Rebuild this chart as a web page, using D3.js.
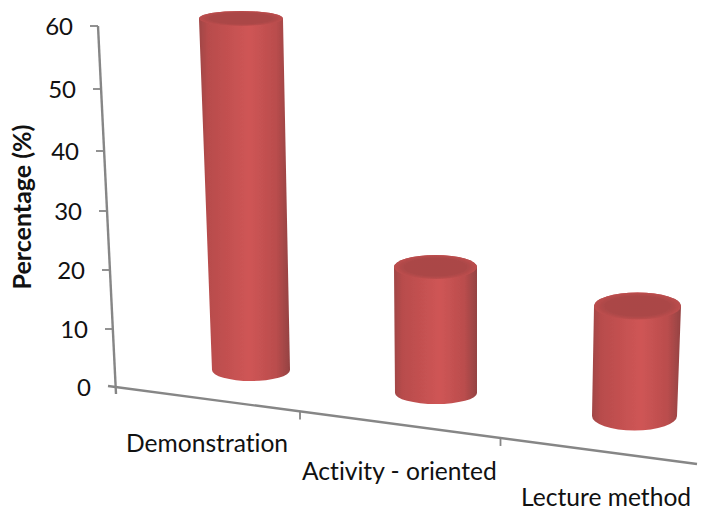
<!DOCTYPE html>
<html><head><meta charset="utf-8">
<script src="https://cdn.jsdelivr.net/npm/d3@7"></script>
<style>html,body{margin:0;padding:0;background:#fff}svg{display:block}text{font-family:Lato,"Open Sans",sans-serif;fill:#111;font-variant-ligatures:none}</style>
</head><body><svg id="c" width="710" height="510"></svg>
<script>
const categories = ["Demonstration", "Activity - oriented", "Lecture method"];
const values = [60, 21, 18];
const tickValues = [0, 10, 20, 30, 40, 50, 60];
const axisTitle = "Percentage (%)";

const svg = d3.select("#c");
const idx = [0, 1, 2];
// Perspective projection of the 3-D chart, expressed as scales
const tickY = d3.scaleLinear().domain(tickValues).range([387, 329, 270, 211, 151, 89, 26]);
const tickX = d3.scaleLinear().domain([0, 60]).range([116, 98]);
const floorX = d3.scaleLinear().domain([0, 1]).range([116, 697]);
const floorY = d3.scaleLinear().domain([0, 1]).range([387, 464]);
const floorTick = d3.scaleLinear().domain(idx).range([0, 0.3167, 0.6618]);
const baseCx = d3.scaleLinear().domain(idx).range([251, 436, 634.5]);
const baseCy = d3.scaleLinear().domain(idx).range([370, 393, 416]);
const pxPerUnit = d3.scaleLinear().domain(idx).range([5.86, 6, 6.11]);
const leanPerUnit = d3.scaleLinear().domain(idx).range([-0.167, -0.024, 0.167]);
const baseRx = d3.scaleLinear().domain(idx).range([39, 41, 42.5]);
const topRx = d3.scaleLinear().domain(idx).range([42, 41.5, 43.5]);
const baseRy = d3.scaleLinear().domain(idx).range([11, 11, 14.5]);
const topRy = d3.scaleLinear().domain(idx).range([7.5, 12, 13.5]);
const labelX = d3.scaleLinear().domain(idx).range([126, 302, 521]);
const labelY = d3.scaleLinear().domain(idx).range([452, 480, 506]);
const axisColor = "#868686";

const defs = svg.append("defs");
const sideGrad = defs.append("linearGradient").attr("id", "side");
[[0, "#a04545"], [0.1, "#b84c4c"], [0.55, "#cf5555"], [0.85, "#ba4d4d"], [1, "#944242"]]
  .forEach(([o, c]) => sideGrad.append("stop").attr("offset", o).attr("stop-color", c));
const capGrad = defs.append("radialGradient").attr("id", "cap");
[[0, "#aa4747"], [0.75, "#ab4747"], [1, "#bd4e4e"]]
  .forEach(([o, c]) => capGrad.append("stop").attr("offset", o).attr("stop-color", c));
defs.append("filter").attr("id", "soft").append("feGaussianBlur").attr("stdDeviation", 0.6);

// Axes
const axes = svg.append("g").attr("stroke", axisColor).attr("fill", "none");
axes.append("line").attr("x1", tickX(60)).attr("y1", tickY(60)).attr("x2", tickX(0)).attr("y2", tickY(0) + 7).attr("stroke-width", 2.4);
axes.append("line").attr("x1", floorX(0) - 8).attr("y1", floorY(0) - 1).attr("x2", floorX(1)).attr("y2", floorY(1)).attr("stroke-width", 2.4);
axes.selectAll("line.t").data(tickValues.slice(1)).join("line").attr("class", "t")
  .attr("x1", d => tickX(d) - 8).attr("x2", d => tickX(d))
  .attr("y1", d => tickY(d)).attr("y2", d => tickY(d)).attr("stroke-width", 1.8);
axes.selectAll("line.x").data([1, 2]).join("line").attr("class", "x")
  .attr("x1", d => floorX(floorTick(d))).attr("x2", d => floorX(floorTick(d)))
  .attr("y1", d => floorY(floorTick(d))).attr("y2", d => floorY(floorTick(d)) + 8)
  .attr("stroke-width", 1.8);

// Tick labels
svg.selectAll("text.tick").data(tickValues).join("text").attr("class", "tick")
  .attr("x", d => tickX(d) - 25).attr("y", d => tickY(d) + 9)
  .attr("text-anchor", "end").attr("font-size", 24).text(d => d);

svg.append("text").attr("transform", "translate(31,207) rotate(-90)")
  .attr("text-anchor", "middle").attr("font-size", 25).attr("font-weight", 700).text(axisTitle);

svg.selectAll("text.cat").data(categories).join("text").attr("class", "cat")
  .attr("x", (d, i) => labelX(i)).attr("y", (d, i) => labelY(i))
  .attr("font-size", 24.6).text(d => d);

// Cylinders
const bars = svg.selectAll("g.bar").data(values).join("g").attr("class", "bar").attr("filter", "url(#soft)");
const geo = (v, i) => {
  const bx = baseCx(i), by = baseCy(i), tx = bx + leanPerUnit(i) * v, ty = by - pxPerUnit(i) * v;
  return { bx, by, tx, ty, brx: baseRx(i), bry: baseRy(i), trx: topRx(i), tRy: topRy(i) };
};
bars.append("path").attr("fill", "url(#side)").attr("d", (v, i) => {
  const g = geo(v, i);
  return `M${g.tx - g.trx},${g.ty}L${g.bx - g.brx},${g.by}` +
    `A${g.brx},${g.bry} 0 0 0 ${g.bx + g.brx},${g.by}L${g.tx + g.trx},${g.ty}` +
    `A${g.trx},${g.tRy} 0 0 0 ${g.tx - g.trx},${g.ty}Z`;
});
bars.append("ellipse").attr("fill", "url(#cap)")
  .attr("cx", (v, i) => geo(v, i).tx).attr("cy", (v, i) => geo(v, i).ty)
  .attr("rx", (v, i) => geo(v, i).trx).attr("ry", (v, i) => geo(v, i).tRy);
</script></body></html>
